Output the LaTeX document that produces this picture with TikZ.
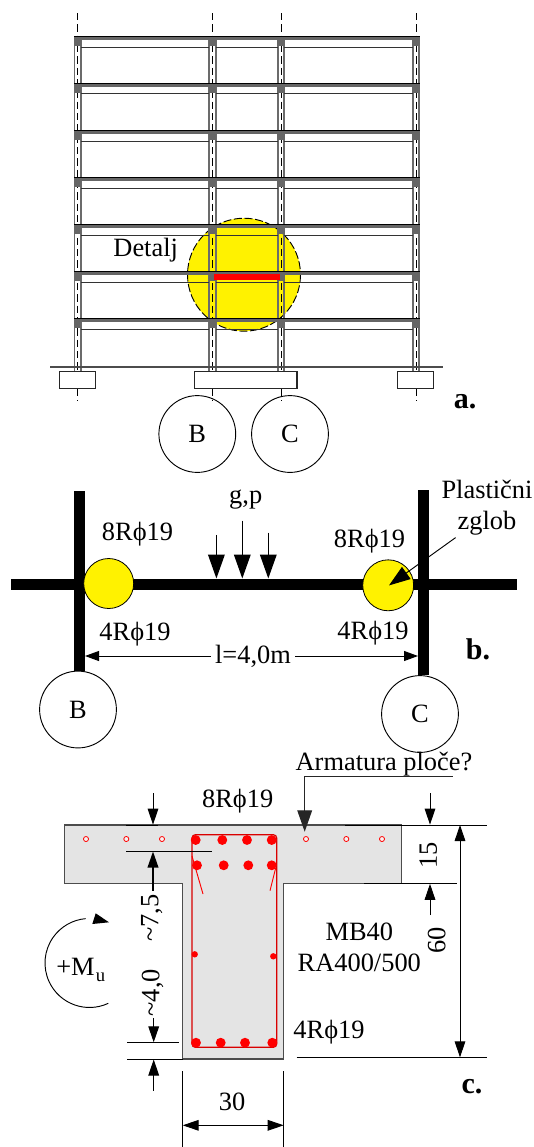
\documentclass[tikz,border=0pt]{standalone}
\usepackage{fontspec}
\setmainfont{Liberation Serif}
\usetikzlibrary{arrows.meta}
\definecolor{beamgray}{gray}{0.40}
\definecolor{colgray}{gray}{0.42}
\definecolor{concrete}{gray}{0.895}
\tikzset{
  x=.75pt,y=-.75pt,
  txt/.style={inner sep=0pt,font=\fontsize{19.8}{22}\selectfont},
  boldtxt/.style={inner sep=0pt,font=\fontsize{22.5}{24}\selectfont\bfseries},
  ring/.style={circle,draw=black,line width=.7pt,minimum size=57.6pt,inner sep=0pt,font=\fontsize{19.8}{22}\selectfont},
  hinge/.style={circle,draw=black,line width=.6pt,fill=yellow,inner sep=0pt},
  thin line/.style={line width=.75pt,draw=black},
  dimtip/.style={-{Triangle[length=12pt,width=8pt]}},
  dimboth/.style={{Triangle[length=12pt,width=8pt]}-{Triangle[length=12pt,width=8pt]}},
  loadtip/.style={line width=1pt,-{Triangle[length=18pt,width=12.5pt]}},
  bar/.style={circle,fill=red,inner sep=0pt},
  openbar/.style={circle,draw=red,fill=concrete!40!white,line width=.6pt,inner sep=0pt,minimum size=3.8pt},
}
\begin{document}
\begin{tikzpicture}
\useasboundingbox (0,0) rectangle (534,1147);
% ---------- a. frame ----------
\fill[yellow] (244,274.7) circle (56.5);
\draw[line width=.7pt,dash pattern=on 6pt off 2pt] (244,274.7) circle (56.5);
\foreach \cx in {77.7,212.4,281,416}{
  \draw[colgray,line width=1.35pt] (\cx-3.3,38) -- (\cx-3.3,372);
  \draw[colgray,line width=1.35pt] (\cx+3.3,38) -- (\cx+3.3,372);
  \draw[black,line width=.7pt,dash pattern=on 5.5pt off 3pt] (\cx,13) -- (\cx,37);
  \draw[black,line width=.7pt,dash pattern=on 5.5pt off 3pt] (\cx,45) -- (\cx,372);
  \draw[black,line width=.7pt,dash pattern=on 5.5pt off 3pt] (\cx,389) -- (\cx,401);
}
\foreach \fy/\ly in {37.7/47.3,84.5/93.5,131.5/141.3,178.5/188.3,225.5/235.3,272.7/282.3,319.5/329.3}{
  \fill[beamgray] (74.4,\fy-1.3) rectangle (419.6,\fy+2.7);
  \draw[black,line width=.6pt] (74.4,\fy-1.3) -- (419.6,\fy-1.3);
  \draw[black!80,line width=.85pt] (81,\ly) -- (209,\ly);
  \draw[black!80,line width=.85pt] (216,\ly) -- (277.7,\ly);
  \draw[black!80,line width=.85pt] (284.4,\ly) -- (412.7,\ly);
  \foreach \cx in {77.7,212.4,281,416}{
    \fill[beamgray] (\cx-3.6,\fy) rectangle (\cx+3.6,\fy+8.2);
  }
}
\fill[red] (213.7,273.9) rectangle (280,279.7);
\draw[black!70,line width=.8pt] (50,367) -- (443,367);
\draw[black!85,line width=.8pt,fill=white] (59.3,371.7) rectangle (95.7,388.7);
\draw[black!85,line width=.8pt,fill=white] (194.3,371.7) rectangle (297,388.7);
\draw[black!85,line width=.8pt,fill=white] (397.5,371.7) rectangle (433.5,388.7);
\node[txt] (detalj) at (145.7,250.5) {Detalj};
\node[ring] (ringBa) at (197.3,434) {B};
\node[ring] (ringCa) at (290,434) {C};
\node[boldtxt] (labela) at (465,402) {a.};
% ---------- b. beam ----------
\fill[black] (74,490.5) rectangle (85,670.7);
\fill[black] (418,489.5) rectangle (429,674.8);
\fill[black] (11,578.5) rectangle (517,589.8);
\node[hinge,minimum size=37.5pt] (hingeL) at (108.7,583.5) {};
\node[hinge,minimum size=38.2pt] (hingeR) at (388.2,585.3) {};
\coordinate (loadA0) at (216.4,534.8); \coordinate (loadA1) at (216.4,578.5);
\coordinate (loadB0) at (242.3,520.5); \coordinate (loadB1) at (242.3,578.5);
\coordinate (loadC0) at (268.3,532.5); \coordinate (loadC1) at (268.3,578.5);
\draw[loadtip] (loadA0) -- (loadA1);
\draw[loadtip] (loadB0) -- (loadB1);
\draw[loadtip] (loadC0) -- (loadC1);
\node[txt] (gp) at (245.7,500) {g,p};
\node[txt] (topL) at (137.5,534.5) {8Rϕ19};
\node[txt] (topR) at (369.5,541) {8Rϕ19};
\node[txt] (botL) at (135,634) {4Rϕ19};
\node[txt] (botR) at (373,633) {4Rϕ19};
\node[txt,inner xsep=3pt] (span) at (253,656) {l=4,0m};
\coordinate (spanL) at (85,656); \coordinate (spanR) at (418,656);
\draw[line width=.7pt,-{Triangle[length=10.5pt,width=7.5pt]}] (span.west |- spanL) -- (spanL);
\draw[line width=.7pt,-{Triangle[length=10.5pt,width=7.5pt]}] (span.east |- spanR) -- (spanR);
\node[ring] (ringBb) at (78,709.5) {B};
\node[ring] (ringCb) at (420,714) {C};
\node[txt] (plast) at (487,489.5) {Plastični};
\node[txt] (zglob) at (487,523) {zglob};
\coordinate (leadS) at (455.6,537.6);
\coordinate (leadE) at (389,585.4);
\draw[line width=.7pt,-{Triangle[length=16pt,width=11pt]}] (leadS) -- (leadE);
\node[boldtxt] (labelb) at (478,649) {b.};
% ---------- c. section ----------
\draw[fill=concrete,draw=black!70,line width=.9pt]
  (64.3,825) -- (401.7,825) -- (401.7,883.3) -- (283.7,883.3) -- (283.7,1059)
  -- (182.7,1059) -- (182.7,883.3) -- (64.3,883.3) -- cycle;
\draw[red!85!black,line width=.9pt,rounded corners=2.5pt] (192,834.7) rectangle (276.7,1047.3);
\draw[red,line width=.7pt] (192,856) -- (203,894);
\draw[red,line width=.7pt] (275.7,868) -- (270,890.7);
\foreach \bx in {195.7,222.3,247,271.7}{\node[bar,minimum size=7.4pt] at (\bx,840) {};}
\foreach \bx in {197,223.7,248.3,271.7}{\node[bar,minimum size=7.4pt] at (\bx,865.3) {};}
\foreach \bx in {196,220.7,245,272.3}{\node[bar,minimum size=7.4pt] at (\bx,1042.7) {};}
\node[bar,minimum size=4.8pt] at (194.7,954.3) {};
\node[bar,minimum size=4.8pt] at (273.3,956.3) {};
\foreach \bx in {86,126.3,162,306,346.3,382}{\node[openbar] at (\bx,839) {};}
% extension lines
\draw[thin line] (345,825) -- (487.3,825);
\draw[thin line] (126,825) -- (158,825);
\draw[thin line] (364,883.3) -- (456.7,883.3);
\draw[thin line] (296.7,1057.3) -- (487.3,1057.3);
\draw[thin line] (127,1059) -- (182.7,1059);
\draw[thin line] (126,851) -- (212,851);
\draw[line width=.9pt] (127,1042.7) -- (178.7,1042.7);
\draw[thin line] (182.7,1071) -- (182.7,1147);
\draw[thin line] (283.7,1071) -- (283.7,1147);
% dimension arrows
\coordinate (dA0) at (153,793.3); \coordinate (dA1) at (153,824.6);
\draw[line width=.7pt,dimtip] (dA0) -- (dA1);
\coordinate (dB0) at (153,890.7); \coordinate (dB1) at (153,851.5);
\draw[line width=1.1pt,dimtip] (dB0) -- (dB1);
\coordinate (dC0) at (153.7,1018); \coordinate (dC1) at (153.7,1042.3);
\draw[line width=.9pt,dimtip] (dC0) -- (dC1);
\coordinate (dD0) at (153.7,1090.7); \coordinate (dD1) at (153.7,1059.5);
\draw[line width=.7pt,dimtip] (dD0) -- (dD1);
\coordinate (dE0) at (430,793.3); \coordinate (dE1) at (430,824.6);
\draw[line width=.7pt,dimtip] (dE0) -- (dE1);
\coordinate (dF0) at (430,915); \coordinate (dF1) at (430,883.8);
\draw[line width=.7pt,dimtip] (dF0) -- (dF1);
\coordinate (dG0) at (460,825); \coordinate (dG1) at (460,1057.3);
\draw[line width=.7pt,dimboth] (dG0) -- (dG1);
\coordinate (dH0) at (182.7,1125.3); \coordinate (dH1) at (283.7,1125.3);
\draw[line width=.7pt,dimboth] (dH0) -- (dH1);
\coordinate (armA) at (452.7,776.7); \coordinate (armB) at (304.7,776.7); \coordinate (armC) at (304.7,831.7);
\draw[line width=.9pt,black!85,-{Triangle[length=16pt,width=11pt]}] (armA) -- (armB) -- (armC);
\node[txt] (armat) at (384,764) {Armatura ploče?};
\node[txt] (top8) at (237.7,800.7) {8Rϕ19};
\node[txt,rotate=90] (d75) at (151.7,918.3) {\textasciitilde7,5};
\node[txt,rotate=90] (d40) at (152.7,992.7) {\textasciitilde4,0};
\node[txt,rotate=90] (d15) at (428.3,855) {15};
\node[txt,rotate=90] (d60) at (436.7,940.7) {60};
\node[txt] (d30) at (232,1102) {30};
\node[txt] (mb) at (359.3,931.7) {MB40};
\node[txt] (ra) at (359.3,962.7) {RA400/500};
\node[txt] (bot4) at (329,1032.3) {4Rϕ19};
\node[boldtxt] (labelc) at (472,1086.7) {c.};
\draw[line width=.7pt] (108.3,1003.3) arc[start angle=65,end angle=265,radius=44.5];
\fill[black] (95.7,913.3) -- (109,922.3) -- (92.3,924) -- cycle;
\node[txt,anchor=west] (mu) at (56,966.7) {+M};
\node[inner sep=0pt,font=\fontsize{14}{16}\selectfont] (musub) at (100.5,977) {u};
\end{tikzpicture}
\end{document}
